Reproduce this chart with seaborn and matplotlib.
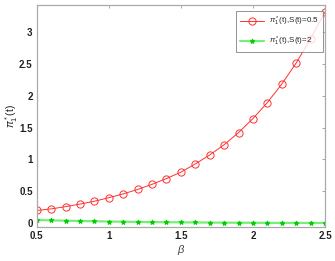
import numpy as np
import pandas as pd
import matplotlib
matplotlib.use('Agg')
import matplotlib.pyplot as plt
import seaborn as sns

beta = [0.5, 0.6, 0.7, 0.8, 0.9, 1.0, 1.1, 1.2, 1.3, 1.4, 1.5,
        1.6, 1.7, 1.8, 1.9, 2.0, 2.1, 2.2, 2.3, 2.4, 2.5]
pi_s05 = [0.20, 0.225, 0.26, 0.30, 0.345, 0.40, 0.46, 0.53, 0.61, 0.70, 0.80,
          0.93, 1.07, 1.23, 1.42, 1.64, 1.89, 2.18, 2.51, 2.89, 3.31]
pi_s2 = [0.050, 0.045, 0.040, 0.035, 0.031, 0.027, 0.024, 0.021, 0.018, 0.016, 0.014,
         0.012, 0.011, 0.009, 0.008, 0.007, 0.006, 0.005, 0.005, 0.004, 0.004]

xticks = [0.5, 1, 1.5, 2, 2.5]
xticklabels = ['0.5', '1', '1.5', '2', '2.5']
yticks = [0, 0.5, 1, 1.5, 2, 2.5, 3]
yticklabels = ['0', '0.5', '1', '1.5', '2', '2.5', '3']

label_s05 = r'$\pi_1^*$(t),S(t)=0.5'
label_s2 = r'$\pi_1^*$(t),S(t)=2'

sns.set_style('white')
plt.rcParams['font.family'] = ['Liberation Sans', 'DejaVu Sans']
plt.rcParams['mathtext.fontset'] = 'custom'
plt.rcParams['mathtext.rm'] = 'Liberation Sans'
plt.rcParams['mathtext.it'] = 'Liberation Sans:italic'

fig = plt.figure(figsize=(3.35, 2.61), dpi=100)
ax = fig.add_axes([0.110, 0.130, 0.860, 0.851])

sns.lineplot(x=beta, y=pi_s05, ax=ax, color='#ff3030', lw=0.7, marker='o',
             markersize=5.2, markerfacecolor='none', markeredgecolor='#ff3030',
             markeredgewidth=0.7, label=label_s05)
sns.lineplot(x=beta, y=pi_s2, ax=ax, color='#77ee77', lw=1.6, marker='*',
             markersize=3.5, markerfacecolor='#00cc00', markeredgecolor='#00cc00',
             label=label_s2)

ax.set_xlim(0.5, 2.5)
ax.set_ylim(-0.06, 3.42)
ax.set_xticks(xticks)
ax.set_xticklabels(xticklabels)
ax.set_yticks(yticks)
ax.set_yticklabels(yticklabels)
ax.tick_params(direction='in', length=2.5, width=0.6, color='#999999',
               labelsize=7, top=True, right=True, pad=3)
for t in ax.get_xticklabels() + ax.get_yticklabels():
    t.set_fontweight('bold')
    t.set_color('#222222')
for s in ax.spines.values():
    s.set_color('#aaaaaa')
    s.set_linewidth(0.9)

ax.set_xlabel(r'$\beta$', fontsize=8, color='#444444', labelpad=1)
ax.set_ylabel(r'$\pi_1^*$(t)', fontsize=7.5, color='#222222')
ax.yaxis.set_label_coords(-0.06, 0.5)

leg = ax.legend(loc='upper right', bbox_to_anchor=(0.994, 0.975), fontsize=5.8,
                frameon=True, fancybox=False, edgecolor='#777777', borderpad=0.5,
                handlelength=3.0, labelspacing=0.9, borderaxespad=0.0,
                handletextpad=0.6)
leg.get_frame().set_linewidth(0.7)

fig.savefig('out.png', dpi=100, facecolor='white')
